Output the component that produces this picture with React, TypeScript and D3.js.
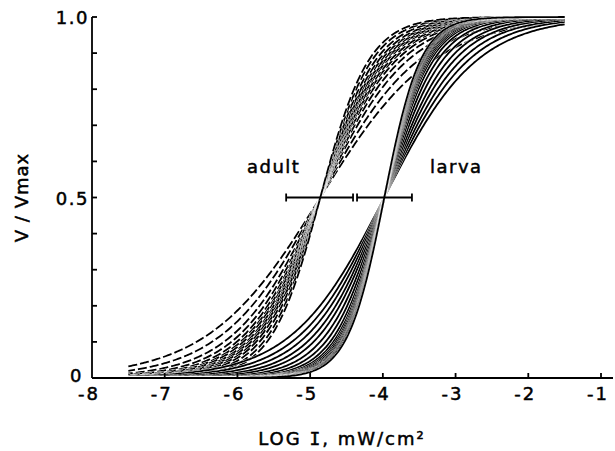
import React, { useEffect, useRef } from 'react'
import * as d3 from 'd3'

// axis ticks
const xTicks = [-8, -7, -6, -5, -4, -3, -2, -1]
const yTicks = [0, 0.1, 0.2, 0.3, 0.4, 0.5, 0.6, 0.7, 0.8, 0.9, 1.0]
const yLabels = [
  { v: 0, t: '0' },
  { v: 0.5, t: '0.5' },
  { v: 1.0, t: '1.0' },
]

// fitted V/Vmax = I^n / (I^n + s^n) curves: log s and slope n of each cell
const adultHalf = -4.86
const adultSlopes = [0.56, 0.64, 0.72, 0.78, 0.83, 0.87, 0.9, 0.94, 0.97, 1.0, 1.04, 1.08, 1.14, 1.22, 1.3]
const larvaHalf = -3.98
const larvaSlopes = [0.68, 0.75, 0.82, 0.9, 0.98, 1.08, 1.18, 1.28, 1.36, 1.42, 1.47, 1.52, 1.56, 1.6, 1.63, 1.66, 1.7, 1.74]
const curveFrom = -7.5
const curveTo = -1.5

// half-width bars at V/Vmax = 0.5
const adultBar = [-5.33, -4.41]
const larvaBar = [-4.355, -3.6]

const font = "'DejaVu Sans', sans-serif"

const App = () => {
  const svgRef = useRef(null)

  useEffect(() => {
    const svg = d3.select(svgRef.current)
    svg.selectAll('*').remove()

    const x = d3.scaleLinear().domain([-8, -1]).range([92, 601])
    const y = d3.scaleLinear().domain([0, 1]).range([378, 17])

    const grid = d3.range(curveFrom, curveTo + 0.001, 0.02)
    const hill = (half, n) => grid.map((v) => [v, 1 / (1 + Math.pow(10, -n * (v - half)))])

    const line = d3
      .line()
      .x((d) => x(d[0]))
      .y((d) => y(d[1]))

    const curves = svg.append('g')

    // adult: dashed
    adultSlopes.forEach((n, i) => {
      const pts = hill(adultHalf, n)
      curves
        .append('path')
        .attr('d', line(pts))
        .attr('fill', 'none')
        .attr('stroke', '#fff')
        .attr('stroke-width', 2.8)
        .attr('stroke-dasharray', '9,3')
        .attr('stroke-dashoffset', i * 2.3)
      curves
        .append('path')
        .attr('d', line(pts))
        .attr('fill', 'none')
        .attr('stroke', '#000')
        .attr('stroke-width', 1.8)
        .attr('stroke-dasharray', '9,3')
        .attr('stroke-dashoffset', i * 2.3)
    })

    // larva: solid
    larvaSlopes.forEach((n) => {
      const pts = hill(larvaHalf, n)
      curves
        .append('path')
        .attr('d', line(pts))
        .attr('fill', 'none')
        .attr('stroke', '#fff')
        .attr('stroke-width', 2.5)
      curves
        .append('path')
        .attr('d', line(pts))
        .attr('fill', 'none')
        .attr('stroke', '#000')
        .attr('stroke-width', 1.8)
    })

    // axes
    const axes = svg.append('g').attr('stroke', '#000').attr('stroke-width', 1.8)
    axes.append('line').attr('x1', x(-8)).attr('x2', 613).attr('y1', y(0)).attr('y2', y(0))
    axes.append('line').attr('x1', x(-8)).attr('x2', x(-8)).attr('y1', y(0)).attr('y2', y(1))
    axes
      .selectAll('.yt')
      .data(yTicks)
      .join('line')
      .attr('class', 'yt')
      .attr('x1', x(-8))
      .attr('x2', x(-8) + 5)
      .attr('y1', (d) => y(d))
      .attr('y2', (d) => y(d))
    axes
      .selectAll('.xt')
      .data(xTicks.slice(1))
      .join('line')
      .attr('class', 'xt')
      .attr('x1', (d) => x(d))
      .attr('x2', (d) => x(d))
      .attr('y1', y(0))
      .attr('y2', y(0) - 5)

    const txt = (sel, size, spacing) =>
      sel
        .style('font-family', font)
        .style('font-size', size)
        .style('letter-spacing', spacing)
        .attr('fill', '#000')
        .attr('stroke', '#000')
        .attr('stroke-width', 0.5)

    // tick labels
    txt(
      svg
        .selectAll('.xl')
        .data(xTicks)
        .join('text')
        .attr('class', 'xl')
        .attr('x', (d) => x(d) - 3)
        .attr('y', 400)
        .attr('text-anchor', 'middle'),
      '18px',
      '2px'
    ).text((d) => String(d))

    txt(
      svg
        .selectAll('.yl')
        .data(yLabels)
        .join('text')
        .attr('class', 'yl')
        .attr('x', (d) => (d.v === 0 ? 83 : 89))
        .attr('y', (d) => (d.v === 0 ? y(d.v) + 4 : y(d.v) + 7))
        .attr('text-anchor', 'end'),
      '18px',
      '1.5px'
    ).text((d) => d.t)

    // axis titles
    const xt = txt(
      svg.append('text').attr('x', 342).attr('y', 445).attr('text-anchor', 'middle'),
      '18px',
      '2px'
    )
    xt.append('tspan').text('LOG ')
    xt.append('tspan').style('font-family', "'DejaVu Sans Mono', monospace").text('I')
    xt.append('tspan').text(', mW/cm²')

    txt(
      svg
        .append('text')
        .attr('transform', `translate(28,${y(0.5)}) rotate(-90)`)
        .attr('text-anchor', 'middle'),
      '18px',
      '1px'
    ).text('V / Vmax')

    // half-width bars
    const bars = svg.append('g').attr('stroke', '#000').attr('stroke-width', 1.8)
    ;[adultBar, larvaBar].forEach((b) => {
      bars.append('line').attr('x1', x(b[0])).attr('x2', x(b[1])).attr('y1', y(0.5)).attr('y2', y(0.5))
      b.forEach((v) => {
        bars.append('line').attr('x1', x(v)).attr('x2', x(v)).attr('y1', y(0.5) - 4).attr('y2', y(0.5) + 4)
      })
    })

    // group labels
    txt(svg.append('text').attr('x', 247).attr('y', 173), '18px', '1.5px').text('adult')
    txt(svg.append('text').attr('x', 430).attr('y', 173), '18px', '1.5px').text('larva')
  }, [])

  return (
    <svg
      ref={svgRef}
      width={615}
      height={451}
      style={{ position: 'absolute', left: 0, top: 0, background: '#fff' }}
    />
  )
}

export default App
